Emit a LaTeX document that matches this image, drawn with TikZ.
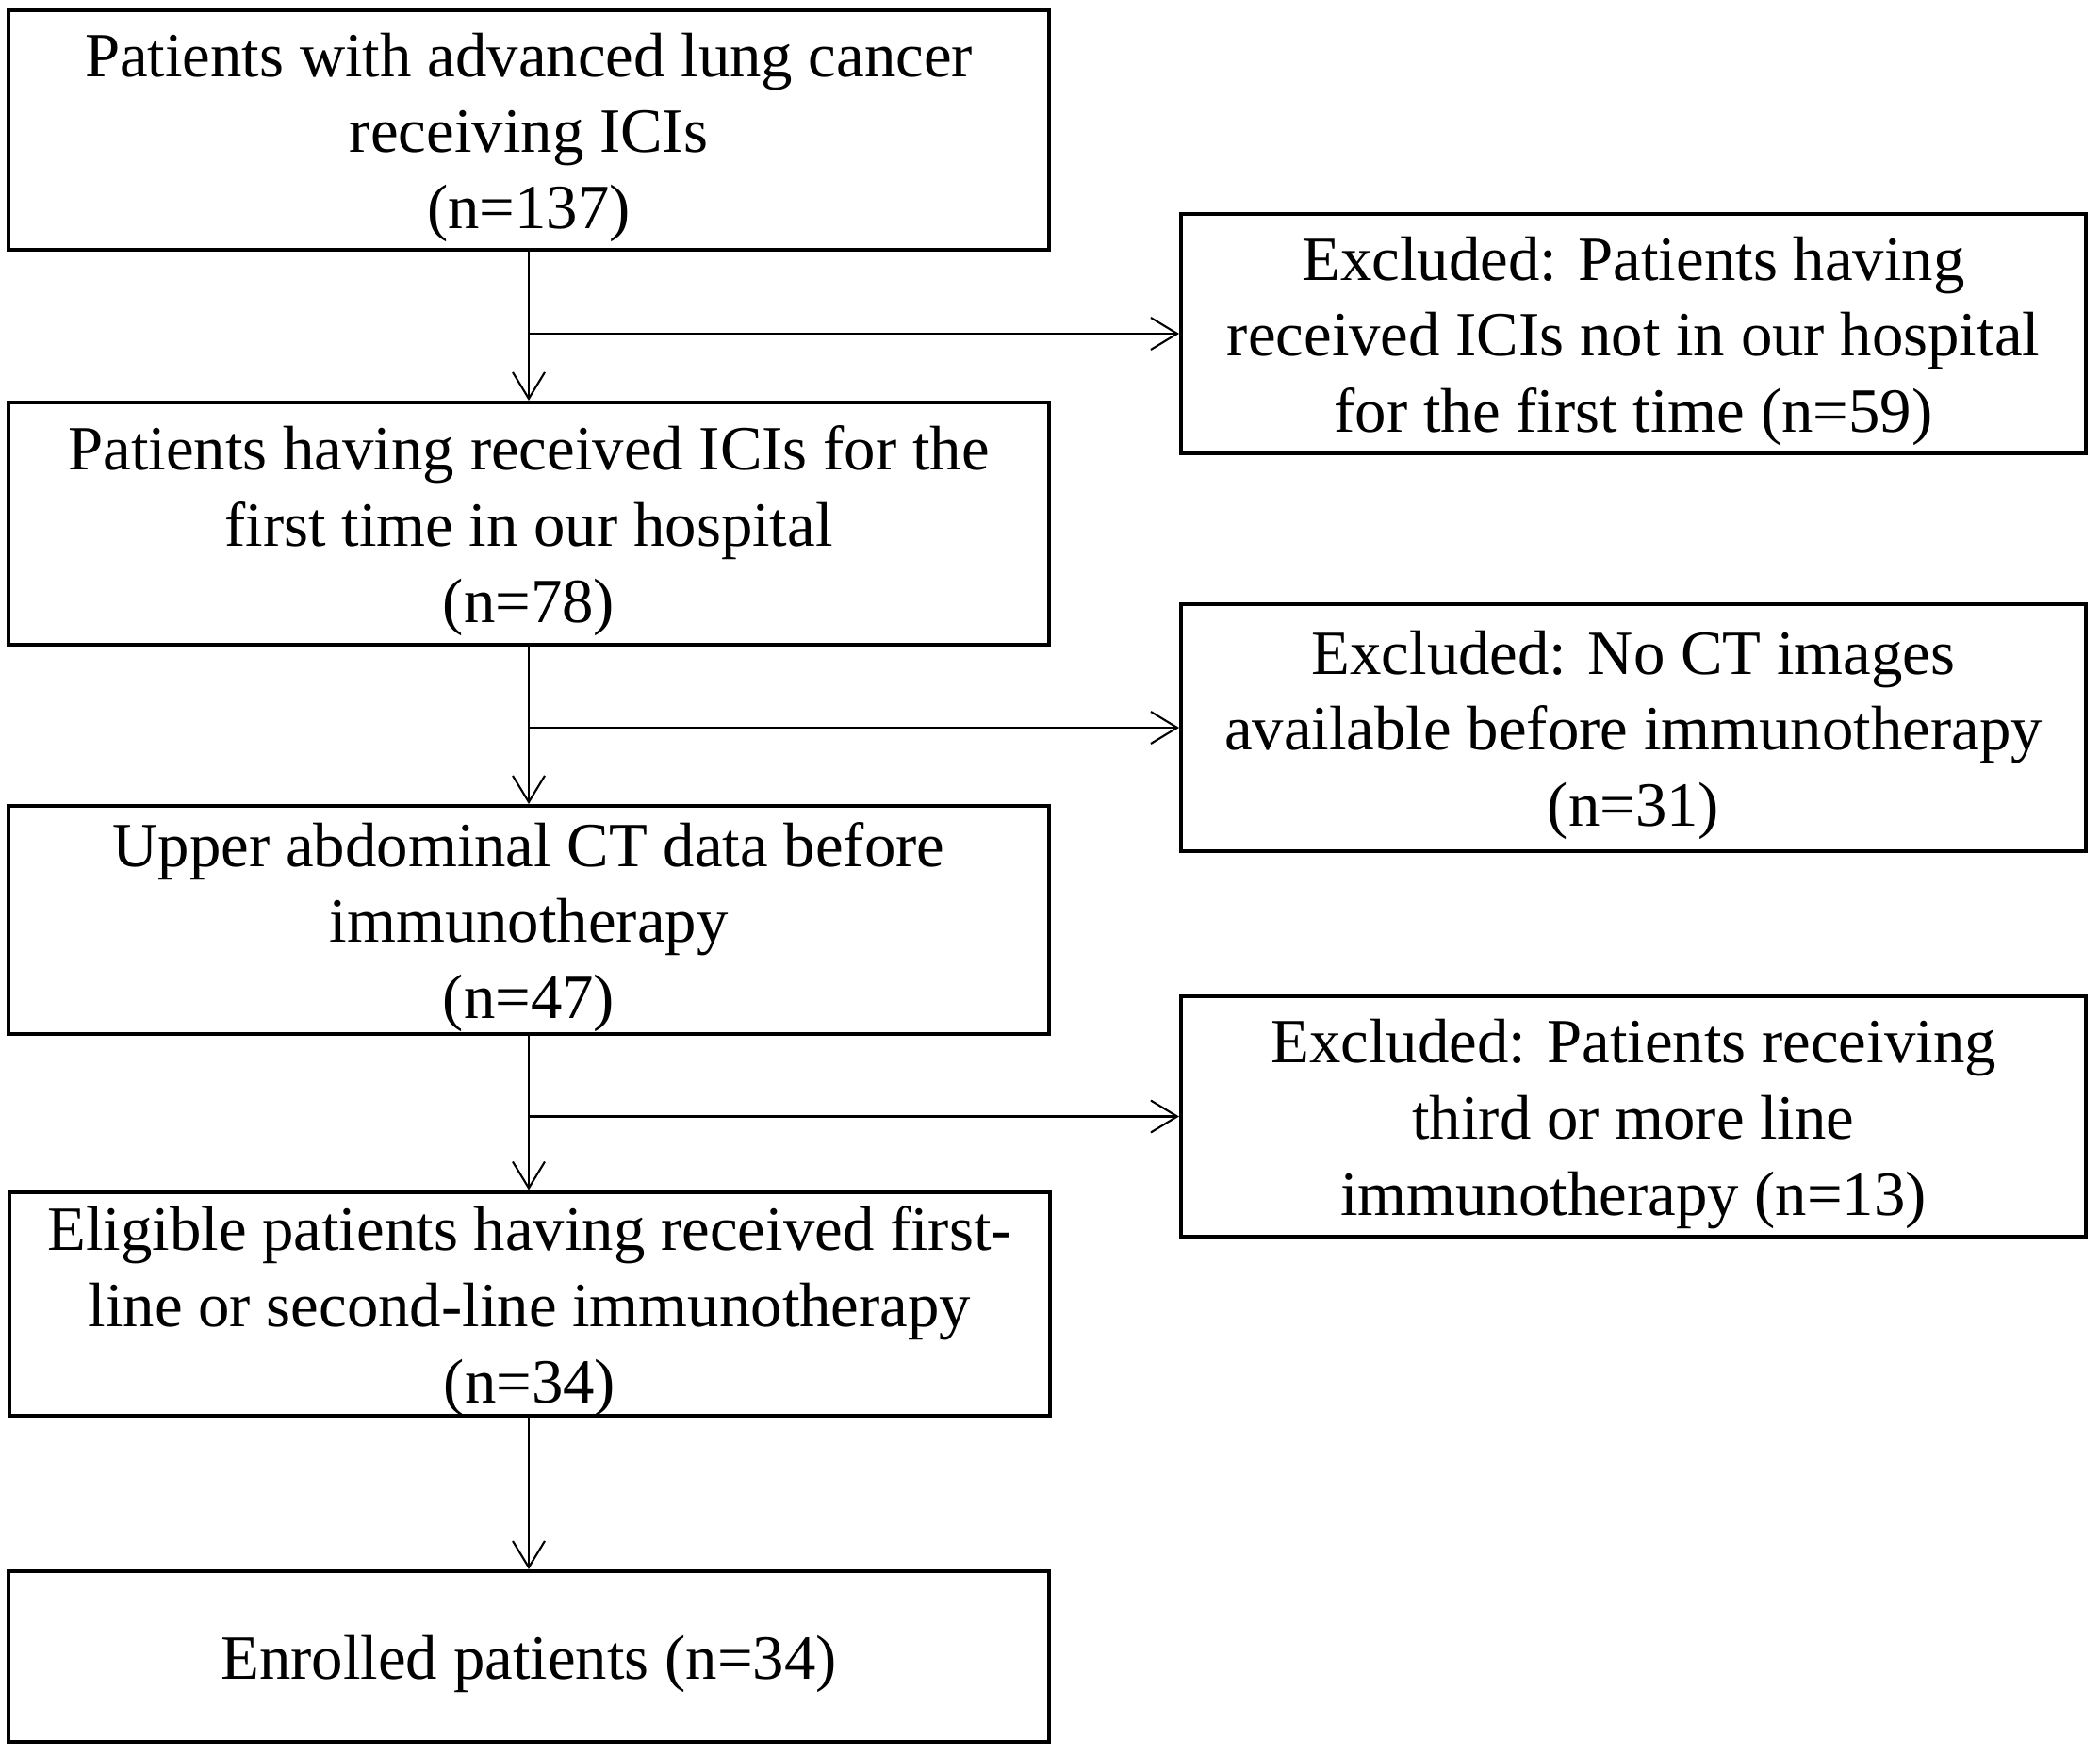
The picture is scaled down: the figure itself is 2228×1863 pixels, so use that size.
\documentclass[tikz,border=0pt]{standalone}
\usepackage{fontspec}
\setmainfont{Liberation Serif}
\usepackage{tikz}
\usetikzlibrary{positioning, arrows.meta}
\tikzstyle{flowchart} = [x = .1mm, y = -.1mm]
\definecolor{lineColor}{RGB}{0,0,0}
\tikzstyle{boxStyle} = [draw=lineColor, line width=1.15pt, fill=white, align=center, inner sep=0pt, font=\fontsize{19}{23}\selectfont]
\tikzstyle{mainBox} = [boxStyle, minimum width=110.4mm]
\tikzstyle{excludedBox} = [boxStyle, minimum width=96.0mm]
\tikzstyle{flowArrow} = [draw=lineColor, line width=.6pt, -{Straight Barb[length=2.8mm, width=3.4mm, line width=.6pt]}]
\newcommand{\topStrut}{\rule{0pt}{6.2mm}}
\newcommand{\mainStep}[4]{\node [mainBox, minimum height=#3] (#1) at (#2) {\topStrut#4};}
\newcommand{\excludedStep}[4]{\node [excludedBox, minimum height=#3] (#1) at (#2) {\topStrut#4};}

\begin{document}
\begin{tikzpicture}[flowchart]
  \useasboundingbox (0,0) rectangle (2228,1863);

  % main column
  \mainStep{patients}{561,138}{25.4mm}{Patients with advanced lung cancer\\receiving ICIs\\(n=137)}
  \mainStep{firstTime}{561,555.5}{25.7mm}{Patients having received ICIs for the\\first time in our hospital\\(n=78)}
  \mainStep{upperCT}{561,976}{24.2mm}{Upper abdominal CT data before\\immunotherapy\\(n=47)}
  \mainStep{eligible}{562,1383.5}{23.1mm}{Eligible patients having received first-\\line or second-line immunotherapy\\(n=34)}
  \mainStep{enrolled}{561,1757.5}{18.1mm}{Enrolled patients (n=34)}

  % exclusions
  \excludedStep{excludedFirst}{1733,354}{25.4mm}{Excluded: Patients having\\received ICIs not in our hospital\\for the first time (n=59)}
  \excludedStep{excludedCT}{1733,772}{26.2mm}{Excluded: No CT images\\available before immunotherapy\\(n=31)}
  \excludedStep{excludedLine}{1733,1184.5}{25.5mm}{Excluded: Patients receiving\\third or more line\\immunotherapy (n=13)}

  \draw [flowArrow] (patients.south) -- (firstTime.north);
  \draw [flowArrow] (firstTime.south) -- (upperCT.north);
  \draw [flowArrow] (upperCT.south) -- (eligible.north -| upperCT.south);
  \draw [flowArrow] (eligible.south -| upperCT.south) -- (enrolled.north);

  \draw [flowArrow] (patients.south |- excludedFirst.west) -- (excludedFirst.west);
  \draw [flowArrow] (firstTime.south |- excludedCT.west) -- (excludedCT.west);
  \draw [flowArrow] (upperCT.south |- excludedLine.west) -- (excludedLine.west);
\end{tikzpicture}
\end{document}
